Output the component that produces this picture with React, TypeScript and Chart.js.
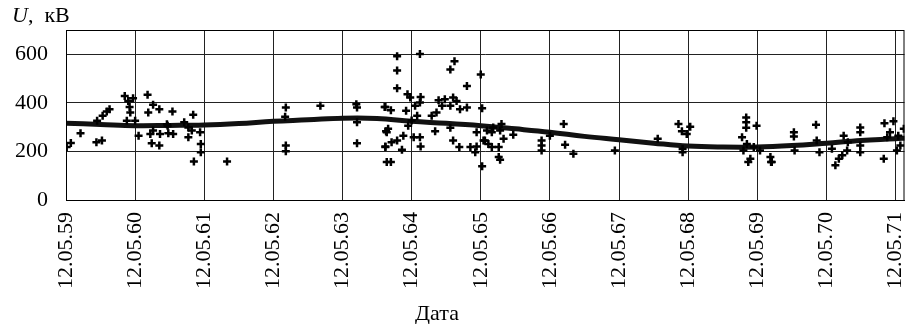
import React, { useEffect, useRef } from "react";
import { Chart, registerables } from "chart.js";

Chart.register(...registerables);

// x values are years (59 = 12.05.1959 ...), y values are U, kV
const yearTicks = [59, 60, 61, 62, 63, 64, 65, 66, 67, 68, 69, 70, 71];
const tickPrefix = "12.05.";

const trendYears = [59, 59.5, 60, 60.5, 61, 61.5, 62, 62.5, 63, 63.5, 64, 64.5, 65, 65.5, 66, 66.5, 67, 67.5, 68, 68.5, 69, 69.5, 70, 70.5, 71, 71.15];
const trendU = [316, 311, 306, 307, 309, 315, 324, 330, 337, 336, 324, 316, 306, 293, 279, 262, 248, 234, 222, 218, 218, 224, 234, 245, 252, 255];

const measYears = [
  59.01, 59.07, 59.21, 59.44, 59.52, 59.53, 59.59, 59.63, 59.45, 59.85, 59.9, 59.97, 59.92, 59.93, 59.88, 60.0, 60.05,
  60.18, 60.26, 60.35, 60.19, 60.54, 60.22, 60.26, 60.36, 60.24, 60.35, 60.47, 60.48, 60.55, 60.71, 60.77, 60.84, 60.82,
  60.77, 60.94, 60.95, 60.95, 60.85, 61.33, 60.46,
  62.18, 62.17, 62.18, 62.18, 62.68, 63.2, 63.21, 63.21, 63.21, 63.61, 63.63, 63.62, 63.64,
  63.79, 64.12, 63.79, 64.62, 64.56, 65.0, 63.79, 64.8, 63.94, 63.98, 64.13, 64.12, 63.62, 63.7, 63.92, 64.05, 64.39,
  64.48, 64.6, 64.65, 64.56, 64.44, 64.7, 64.8, 65.02, 64.36, 64.29, 64.0, 64.08, 63.95, 63.66, 63.64, 64.34, 64.56,
  64.03, 64.12, 63.88, 63.79, 63.71, 63.62, 63.86, 64.13, 64.6, 64.69, 64.85, 64.92, 64.94, 65.06, 65.16, 65.26, 65.28,
  65.02, 63.7, 65.09, 65.18,
  65.3, 65.28, 65.16, 65.47, 65.33, 65.04, 65.11, 64.94, 65.26, 65.88, 65.88, 65.88, 66.0, 66.2, 66.22, 66.34, 66.94,
  67.56, 67.86, 67.91, 67.98, 68.03, 67.92, 67.92,
  68.84, 68.84, 68.99, 68.84, 68.78, 68.85, 68.8, 68.9, 68.87, 68.95, 69.19, 69.2, 69.04, 69.21,
  69.53, 69.53, 69.54, 69.85, 69.86, 69.9, 70.08, 70.13, 70.18, 70.23, 70.3, 70.25, 70.31, 70.49, 70.49, 70.49, 70.49,
  70.83, 70.84, 70.97, 70.92, 71.04, 71.12, 71.02, 71.07, 70.88
];
const measU = [
  218, 235, 275, 238, 245, 347, 364, 374, 326, 428, 408, 419, 383, 360, 326, 326, 265,
  433, 392, 374, 360, 364, 272, 286, 272, 234, 224, 306, 275, 272, 320, 299, 351, 286,
  258, 279, 231, 197, 159, 159, 312,
  381, 343, 224, 201, 388, 394, 381, 320, 234, 383, 283, 220, 156,
  592, 601, 533, 571, 537, 517, 460, 469, 435, 422, 424, 401, 383, 370, 367, 388, 411,
  415, 422, 408, 388, 388, 374, 381, 378, 360, 347, 327, 347, 306, 293, 279, 283, 297,
  258, 258, 265, 245, 238, 218, 207, 220, 245, 218, 218, 197, 279, 245, 218, 177, 166,
  139, 156, 286, 299,
  313, 286, 279, 269, 252, 245, 231, 220, 218, 245, 224, 204, 265, 313, 228, 190, 204,
  252, 313, 283, 272, 302, 197, 210,
  340, 320, 306, 297, 258, 231, 204, 170, 156, 218, 177, 156, 204, 156,
  279, 261, 204, 310, 245, 197, 211, 143, 170, 184, 204, 265, 238, 299, 279, 224, 197,
  170, 316, 324, 279, 265, 293, 204, 224, 258
];

const FONT = "'Liberation Serif', 'Times New Roman', serif";

const decor = {
  id: "decor",
  afterDraw(chart: any) {
    const { ctx, chartArea } = chart;
    ctx.save();
    ctx.strokeStyle = "#000";
    ctx.lineWidth = 1;
    ctx.strokeRect(chartArea.left + 0.5, chartArea.top + 0.5, chartArea.right - chartArea.left - 1, chartArea.bottom - chartArea.top);
    ctx.fillStyle = "#000";
    ctx.textBaseline = "alphabetic";
    ctx.textAlign = "left";
    ctx.font = "italic 22px " + FONT;
    ctx.fillText("U", 12, 22);
    const w = ctx.measureText("U").width;
    ctx.font = "22px " + FONT;
    ctx.fillText(",  кВ", 12 + w, 22);
    ctx.textAlign = "center";
    ctx.fillText("Дата", 437, 320);
    ctx.restore();
  },
};

export default function App() {
  const ref = useRef<HTMLCanvasElement | null>(null);
  useEffect(() => {
    if (!ref.current) return;
    const chart = new Chart(ref.current, {
      type: "scatter",
      data: {
        datasets: [
          {
            label: "measured",
            data: measYears.map((x, i) => ({ x, y: measU[i] })),
            pointStyle: "cross",
            pointRadius: 4,
            borderWidth: 2.5,
            borderColor: "#000",
            backgroundColor: "#000",
            showLine: false,
          },
          {
            label: "trend",
            data: trendYears.map((x, i) => ({ x, y: trendU[i] })),
            showLine: true,
            tension: 0.4,
            borderColor: "#111",
            borderWidth: 5,
            pointRadius: 0,
            fill: false,
          },
        ],
      },
      options: {
        animation: false,
        responsive: false,
        layout: { padding: { top: 30, right: 0, left: 0, bottom: 0 } },
        plugins: { legend: { display: false }, tooltip: { enabled: false } },
        scales: {
          x: {
            type: "linear",
            min: 59,
            max: 71.13,
            afterBuildTicks: (scale: any) => {
              scale.ticks = yearTicks.map((v) => ({ value: v }));
            },
            afterFit: (scale: any) => {
              scale.height = 124;
              scale.paddingLeft = 0;
              scale.paddingRight = 0;
            },
            ticks: {
              autoSkip: false,
              minRotation: 90,
              maxRotation: 90,
              padding: 12,
              color: "#000",
              font: { family: FONT, size: 22 },
              callback: (v: any) => tickPrefix + String(v),
            },
            grid: { color: "#222", lineWidth: 1, drawTicks: false },
            border: { display: true, color: "#000", width: 1 },
          },
          y: {
            min: 0,
            max: 700,
            afterFit: (scale: any) => {
              scale.width = 66;
              scale.paddingTop = 0;
              scale.paddingBottom = 0;
            },
            ticks: {
              stepSize: 100,
              padding: 18,
              color: "#000",
              font: { family: FONT, size: 22 },
              callback: (v: any) => (v % 200 === 0 && v < 700 ? String(v) : ""),
            },
            grid: { color: "#222", lineWidth: 1, drawTicks: false },
            border: { display: true, color: "#000", width: 1 },
          },
        },
      },
      plugins: [decor],
    });
    return () => chart.destroy();
  }, []);
  return (
    <div style={{ position: "absolute", left: 0, top: 0, width: 906, height: 324, overflow: "hidden", background: "#fff" }}>
      <canvas ref={ref} width={911} height={324} style={{ display: "block" }} />
    </div>
  );
}
